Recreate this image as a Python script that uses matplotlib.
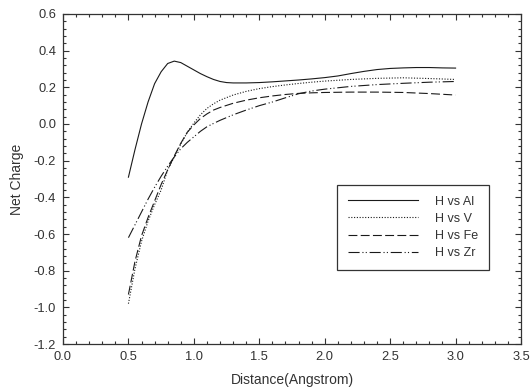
import matplotlib
matplotlib.use("Agg")
import matplotlib.pyplot as plt
from matplotlib.ticker import MultipleLocator, FormatStrFormatter

plt.rcParams['font.family'] = ['Liberation Sans', 'DejaVu Sans']

# Distance (Angstrom)
x_al = [0.50, 0.55, 0.60, 0.65, 0.70, 0.75, 0.80, 0.85, 0.90, 0.95, 1.00, 1.05,
        1.10, 1.15, 1.20, 1.25, 1.30, 1.40, 1.50, 1.60, 1.70, 1.80, 1.90, 2.00,
        2.10, 2.20, 2.30, 2.40, 2.50, 2.60, 2.70, 2.80, 2.90, 3.00]
al = [-0.29, -0.14, 0.00, 0.12, 0.22, 0.285, 0.33, 0.343, 0.335, 0.315, 0.295, 0.275,
      0.258, 0.243, 0.232, 0.226, 0.224, 0.224, 0.226, 0.230, 0.235, 0.240, 0.246, 0.253,
      0.262, 0.275, 0.287, 0.297, 0.303, 0.306, 0.308, 0.308, 0.306, 0.305]

x_c = [0.50, 0.55, 0.60, 0.65, 0.70, 0.75, 0.80, 0.85, 0.90, 0.95, 1.00, 1.05,
       1.10, 1.15, 1.20, 1.30, 1.40, 1.50, 1.60, 1.70, 1.80, 1.90, 2.00, 2.20,
       2.40, 2.60, 2.80, 3.00]
v = [-0.98, -0.79, -0.64, -0.53, -0.44, -0.36, -0.25, -0.18, -0.11, -0.045, 0.005, 0.05,
     0.085, 0.11, 0.13, 0.158, 0.178, 0.193, 0.204, 0.213, 0.221, 0.228, 0.234, 0.243,
     0.249, 0.252, 0.248, 0.243]
fe = [-0.93, -0.75, -0.61, -0.51, -0.42, -0.33, -0.25, -0.175, -0.105, -0.045, -0.005, 0.03,
      0.055, 0.076, 0.09, 0.113, 0.130, 0.143, 0.153, 0.161, 0.167, 0.170, 0.172, 0.174,
      0.174, 0.172, 0.166, 0.158]
zr = [-0.62, -0.55, -0.48, -0.41, -0.345, -0.285, -0.23, -0.18, -0.135, -0.10, -0.07, -0.04,
      -0.015, 0.003, 0.02, 0.05, 0.076, 0.10, 0.12, 0.143, 0.165, 0.18, 0.19, 0.205,
      0.215, 0.222, 0.228, 0.232]

labels = ["H vs Al", "H vs V", "H vs Fe", "H vs Zr"]

fig = plt.figure(figsize=(5.31, 3.92), dpi=100)
ax = fig.add_axes([63/531, 1-344/392, (521-63)/531, (344-14)/392])

lc = '#1a1a1a'
lw = 0.8
ax.plot(x_al, al, color=lc, lw=lw, ls='-', label=labels[0])
ax.plot(x_c, v, color=lc, lw=lw, ls=(0, (1, 1.5)), label=labels[1])
ax.plot(x_c, fe, color=lc, lw=lw, ls=(0, (8, 3)), label=labels[2])
ax.plot(x_c, zr, color=lc, lw=lw, ls=(0, (10, 2.5, 1, 2, 1, 2.5)), label=labels[3])

ax.set_xlim(0.0, 3.5)
ax.set_ylim(-1.2, 0.6)
ax.xaxis.set_major_locator(MultipleLocator(0.5))
ax.xaxis.set_minor_locator(MultipleLocator(0.1))
ax.yaxis.set_major_locator(MultipleLocator(0.2))
ax.yaxis.set_minor_locator(MultipleLocator(0.04))
ax.xaxis.set_major_formatter(FormatStrFormatter('%.1f'))
ax.yaxis.set_major_formatter(FormatStrFormatter('%.1f'))
ax.tick_params(which='both', direction='in', top=True, right=True, colors='#333333',
               labelsize=9.3, width=0.8)
ax.tick_params(which='major', length=4, pad=5)
ax.tick_params(which='minor', length=2)
for s in ax.spines.values():
    s.set_color('#333333')
    s.set_linewidth(0.9)

ax.set_xlabel('Distance(Angstrom)', fontsize=10, color='#333333', labelpad=7)
ax.set_ylabel('Net Charge', fontsize=10, color='#333333', labelpad=7)

leg = ax.legend(loc='upper left', bbox_to_anchor=(0.598, 0.233, 0.332, 0.249),
                mode='expand', fontsize=9, handlelength=5.6, handletextpad=1.4,
                borderaxespad=0, fancybox=False, framealpha=1, edgecolor='#333333',
                labelspacing=0.42, borderpad=0.85)
leg.get_frame().set_linewidth(0.9)
for t in leg.get_texts():
    t.set_color('#333333')

fig.savefig('out.png', dpi=100)
